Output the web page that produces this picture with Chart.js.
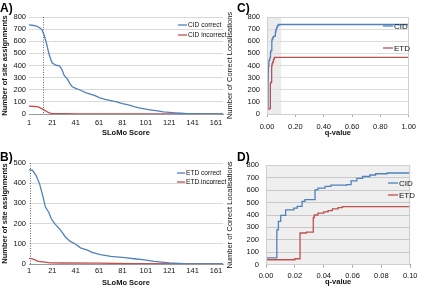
<!DOCTYPE html>
<html>
<head>
<meta charset="utf-8">
<script src="https://cdn.jsdelivr.net/npm/chart.js@4.4.0/dist/chart.umd.min.js"></script>
<style>
  body { margin: 0; background: #fff; }
  #wrap { position: relative; width: 421px; height: 288px; overflow: hidden; font-family: 'Liberation Sans', Arial, sans-serif; }
  canvas { position: absolute; }
  .tag { position: absolute; font-weight: bold; font-size: 12px; line-height: 12px; }
</style>
</head>
<body>
<div id="wrap">
  <canvas id="chartA" width="232" height="142" style="left:0;top:0"></canvas>
  <canvas id="chartB" width="232" height="145" style="left:0;top:143px"></canvas>
  <canvas id="chartC" width="209" height="142" style="left:212px;top:0"></canvas>
  <canvas id="chartD" width="209" height="145" style="left:212px;top:143px"></canvas>
  <div class="tag" style="left:0;top:2px">A)</div>
  <div class="tag" style="left:0;top:151px">B)</div>
  <div class="tag" style="left:237px;top:2px">C)</div>
  <div class="tag" style="left:237px;top:151px">D)</div>
</div>
<script>
// A) CID, SLoMo score vs number of site assignments
const scoreCidCorrect = [1, 5, 8, 10, 12, 14, 16, 18, 20, 21, 24, 27, 29, 31, 34, 36, 38, 41, 44, 50, 55, 58, 61, 66, 71, 76, 81, 86, 91, 96, 101, 106, 111, 116, 121, 126, 131, 136, 141, 150, 167]
const cidCorrect = [735, 730, 722, 712, 696, 649, 580, 499, 440, 420, 402, 398, 370, 320, 285, 250, 225, 212, 200, 175, 160, 150, 135, 120, 110, 100, 85, 75, 60, 48, 40, 32, 25, 18, 14, 10, 6, 3, 2, 1, 0]
const scoreCidIncorrect = [1, 6, 9, 11, 13, 15, 17, 19, 21, 30, 45, 167]
const cidIncorrect = [65, 62, 58, 48, 38, 27, 16, 8, 5, 3, 1, 0]
const cutoffA = 13

// B) ETD
const scoreEtdCorrect = [1, 4, 7, 10, 13, 15, 18, 20, 23, 28, 32, 36, 41, 45, 51, 55, 62, 71, 83, 91, 100, 108, 121, 133, 150, 167]
const etdCorrect = [467, 464, 439, 398, 332, 283, 255, 225, 200, 168, 135, 113, 98, 80, 69, 58, 46, 38, 32, 26, 20, 13, 6, 2, 1, 0]
const scoreEtdIncorrect = [1, 4, 7, 9, 13, 19, 30, 60, 90, 167]
const etdIncorrect = [28, 25, 18, 13, 10, 6, 5, 4, 2, 1]
const cutoffB = 2

const scoreTicks = [1, 21, 41, 61, 81, 101, 121, 141, 161]

// C) and D) q-value vs number of correct localisations
const qCid = [0, 0.0075, 0.0086, 0.0102, 0.0136, 0.0193, 0.0216, 0.025, 0.027, 0.034, 0.036, 0.041, 0.045, 0.056, 0.059, 0.063, 0.067, 0.072, 0.076, 0.084, 1.0]
const cidLocalisations = [55, 281, 349, 397, 442, 456, 469, 509, 523, 603, 617, 630, 640, 645, 675, 695, 710, 722, 732, 738, 738]
const qEtd = [0, 0.02, 0.0236, 0.028, 0.0328, 0.0335, 0.036, 0.04, 0.043, 0.046, 0.05, 0.053, 1.0]
const etdLocalisations = [40, 48, 255, 262, 380, 400, 415, 425, 435, 450, 460, 467, 467]

const BLUE = '#4f81bd'
const RED = '#c0504d'
const FONT = "'Liberation Sans', Arial, sans-serif"

const pairs = (xs, ys) => xs.map((x, i) => ({ x, y: ys[i] }))

const series = (label, xs, ys, color, stepped) => ({
  label,
  data: pairs(xs, ys),
  borderColor: color,
  backgroundColor: color,
  borderWidth: 1.3,
  pointRadius: 0,
  stepped: stepped || false,
  tension: 0
})

// plot background, shaded band, dotted cutoff, plot frame and the legend
const decor = {
  id: 'decor',
  beforeDraw (chart, args, opts) {
    const { ctx, chartArea: a, scales: { x } } = chart
    ctx.save()
    if (opts.plotBg) {
      ctx.fillStyle = opts.plotBg
      ctx.fillRect(a.left, a.top, a.width, a.height)
    }
    if (opts.band) {
      ctx.fillStyle = '#ececec'
      const x0 = x.getPixelForValue(opts.band[0])
      const x1 = x.getPixelForValue(opts.band[1])
      ctx.fillRect(x0, a.top, x1 - x0, a.height)
    }
    ctx.restore()
  },
  beforeDatasetsDraw (chart, args, opts) {
    if (opts.cutoff === undefined) return
    const { ctx, chartArea: a, scales: { x } } = chart
    const px = Math.round(x.getPixelForValue(opts.cutoff)) + 0.5
    ctx.save()
    ctx.strokeStyle = '#666'
    ctx.lineWidth = 1
    ctx.setLineDash([1, 1.5])
    ctx.beginPath()
    ctx.moveTo(px, a.top)
    ctx.lineTo(px, a.bottom)
    ctx.stroke()
    ctx.restore()
  },
  afterDraw (chart, args, opts) {
    const { ctx, chartArea: a } = chart
    ctx.save()
    if (opts.frame) {
      ctx.strokeStyle = opts.frame
      ctx.lineWidth = 1
      ctx.strokeRect(Math.round(a.left) + 0.5, Math.round(a.top) + 0.5, Math.round(a.width) - 1, Math.round(a.height))
    }
    const lg = opts.legend
    if (lg) {
      ctx.font = lg.size + 'px ' + FONT
      ctx.textBaseline = 'middle'
      chart.data.datasets.forEach((ds, i) => {
        const y = lg.y + i * lg.gap
        ctx.strokeStyle = ds.borderColor
        ctx.lineWidth = 1.3
        ctx.beginPath()
        ctx.moveTo(lg.x, y)
        ctx.lineTo(lg.x + lg.len, y)
        ctx.stroke()
        ctx.fillStyle = '#111'
        ctx.fillText(ds.label, lg.x + lg.len + 1, y + 0.5)
      })
    }
    ctx.restore()
  }
}

function yAxis (max, width, title, bold, tickPad, grid) {
  return {
    min: 0,
    max,
    afterBuildTicks: (s) => {
      s.ticks = []
      for (let v = 0; v <= max; v += 100) s.ticks.push({ value: v })
    },
    ticks: { color: '#111', font: { family: FONT, size: 7.5 }, padding: tickPad },
    grid: { color: grid, drawTicks: false },
    border: { display: false },
    title: { display: true, text: title, color: '#111', font: { family: FONT, size: 7.5, weight: bold ? 'bold' : 'normal' }, padding: 0 },
    afterFit: (s) => { s.width = width }
  }
}

function xAxis (min, max, tickValues, fmt, height, tickPad, titlePad, tickMarks) {
  return {
    type: 'linear',
    min,
    max,
    afterBuildTicks: (s) => { s.ticks = tickValues.map(v => ({ value: v })) },
    ticks: { color: '#111', font: { family: FONT, size: 7.5 }, padding: tickPad, maxRotation: 0, autoSkip: false, callback: fmt },
    grid: { display: tickMarks, drawOnChartArea: false, drawTicks: tickMarks, tickLength: 3, color: '#aaa' },
    border: { display: true, color: '#999' },
    title: { display: true, text: '', color: '#111', font: { family: FONT, size: 7.5, weight: 'bold' }, padding: { top: 0, bottom: titlePad } },
    afterFit: (s) => { s.height = height }
  }
}

function makeChart (id, datasets, scales, padding, decorOpts) {
  return new Chart(document.getElementById(id), {
    type: 'line',
    data: { datasets },
    options: {
      responsive: false,
      animation: false,
      layout: { padding },
      plugins: { legend: { display: false }, tooltip: { enabled: false }, decor: decorOpts },
      scales
    },
    plugins: [decor]
  })
}

const scoreFmt = (v) => String(v)
const qFmt = (v) => Number(v).toFixed(2)

// A
const xA = xAxis(1, 167, scoreTicks, scoreFmt, 28, 4, 4.8, false)
xA.title.text = 'SLoMo Score'
makeChart('chartA',
  [series('CID correct', scoreCidCorrect, cidCorrect, BLUE), series('CID incorrect', scoreCidIncorrect, cidIncorrect, RED)],
  { x: xA, y: yAxis(800, 29, 'Number of site assignments', true, 3, '#d9d9d9') },
  { top: 17, right: 9, left: 0, bottom: 0 },
  { cutoff: cutoffA, legend: { x: 178, y: 25, gap: 10, len: 9, size: 6.6 } }
)

// B
const xB = xAxis(1, 167, scoreTicks, scoreFmt, 24, 2.5, 0.8, false)
xB.title.text = 'SLoMo Score'
makeChart('chartB',
  [series('ETD correct', scoreEtdCorrect, etdCorrect, BLUE), series('ETD incorrect', scoreEtdIncorrect, etdIncorrect, RED)],
  { x: xB, y: yAxis(500, 29, 'Number of site assignments', true, 3, '#d9d9d9') },
  { top: 20, right: 9, left: 0, bottom: 0 },
  { cutoff: cutoffB, legend: { x: 177, y: 30, gap: 9, len: 8, size: 6.6 } }
)

// C
const xC = xAxis(0, 1, [0, 0.2, 0.4, 0.6, 0.8, 1.0], qFmt, 28, 5, 4.5, true)
xC.title.text = 'q-value'
makeChart('chartC',
  [series('CID', qCid, cidLocalisations, BLUE, true), series('ETD', qEtd, etdLocalisations, RED, true)],
  { x: xC, y: yAxis(800, 42, 'Number of Correct Localisations', false, 7, '#dcdcdc') },
  { top: 17, right: 9, left: 13, bottom: 0 },
  { band: [0, 0.1], frame: '#cfcfcf', legend: { x: 171, y: 26, gap: 22, len: 10, size: 8 } }
)

// D
const xD = xAxis(0, 0.1, [0, 0.02, 0.04, 0.06, 0.08, 0.1], qFmt, 23.3, 3.5, 1.1, true)
xD.title.text = 'q-value'
makeChart('chartD',
  [series('CID', qCid, cidLocalisations, BLUE, true), series('ETD', qEtd, etdLocalisations, RED, true)],
  { x: xD, y: yAxis(800, 41, 'Number of Correct Localisations', false, 7, '#c8c8c8') },
  { top: 22.3, right: 8, left: 13, bottom: 0 },
  { plotBg: '#efefef', frame: '#cfcfcf', legend: { x: 176, y: 40, gap: 12, len: 10, size: 8 } }
)
</script>
</body>
</html>
